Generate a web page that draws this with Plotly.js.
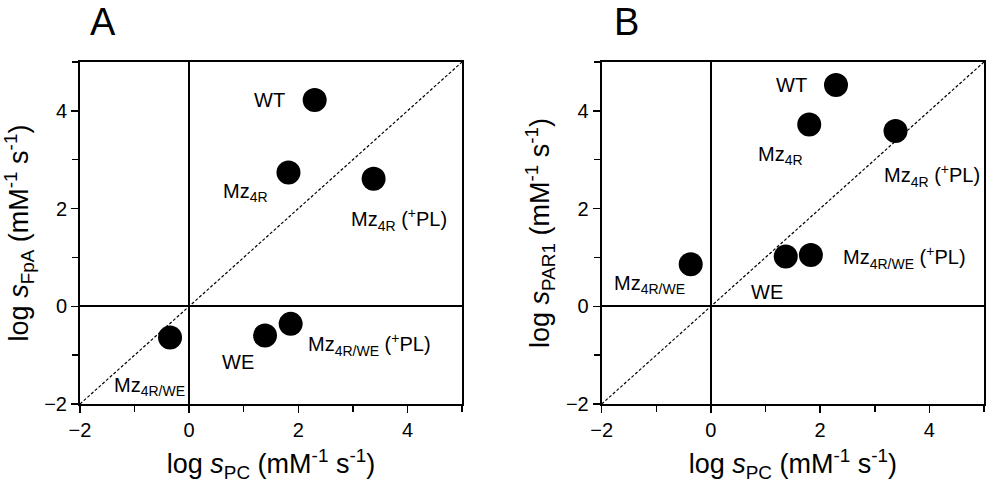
<!DOCTYPE html>
<html>
<head>
<meta charset="utf-8">
<script src="https://cdn.plot.ly/plotly-3.0.1.min.js"></script>
<style>html,body{margin:0;padding:0;background:#fff}#chart{width:990px;height:488px}</style>
</head>
<body>
<div id="chart"></div>
<script>
// ---- data ----
const labelsA = ["WT", "Mz<sub>4R</sub>", "Mz<sub>4R</sub> (<sup>+</sup>PL)", "Mz<sub>4R/WE</sub>", "WE", "Mz<sub>4R/WE</sub> (<sup>+</sup>PL)"];
const xA = [2.30, 1.82, 3.38, -0.35, 1.39, 1.86];
const yA = [4.22, 2.74, 2.61, -0.64, -0.60, -0.36];

const labelsB = ["WT", "Mz<sub>4R</sub>", "Mz<sub>4R</sub> (<sup>+</sup>PL)", "Mz<sub>4R/WE</sub>", "WE", "Mz<sub>4R/WE</sub> (<sup>+</sup>PL)"];
const xB = [2.29, 1.80, 3.38, -0.37, 1.37, 1.83];
const yB = [4.53, 3.72, 3.59, 0.86, 1.02, 1.05];

const diagX = [-2, 5];
const diagY = [-2, 5];

// label placement (left edge x, middle y) in data units
const labPosA = [[1.15, 4.23], [0.58, 2.33], [2.92, 1.78], [-1.42, -1.65], [0.56, -1.14], [2.15, -0.78]];
const labPosB = [[1.16, 4.53], [0.83, 3.09], [3.13, 2.67], [-1.82, 0.44], [0.70, 0.30], [2.38, 0.99]];

const FONT = "Liberation Sans, Arial, sans-serif";

const markerStyle = {size: 24, color: "#000"};
const traces = [
  {x: diagX, y: diagY, xaxis: "x", yaxis: "y", mode: "lines", line: {color: "#000", width: 1.2, dash: "3px,2px"}, hoverinfo: "skip"},
  {x: xA, y: yA, xaxis: "x", yaxis: "y", mode: "markers", marker: markerStyle},
  {x: diagX, y: diagY, xaxis: "x2", yaxis: "y2", mode: "lines", line: {color: "#000", width: 1.2, dash: "3px,2px"}, hoverinfo: "skip"},
  {x: xB, y: yB, xaxis: "x2", yaxis: "y2", mode: "markers", marker: markerStyle}
];

function axisBase() {
  return {
    range: [-2, 5], autorange: false,
    tick0: 0, dtick: 2, ticks: "outside", ticklen: 7, tickwidth: 1.5, tickcolor: "#000",
    minor: {dtick: 1, ticks: "outside", ticklen: 6, tickwidth: 1.5, tickcolor: "#000", showgrid: false},
    showline: true, linecolor: "#000", linewidth: 2, mirror: true,
    showgrid: false,
    zeroline: true, zerolinecolor: "#000", zerolinewidth: 2,
    tickfont: {family: FONT, size: 20, color: "#000"},
    fixedrange: true
  };
}

const titleFont = {family: FONT, size: 27, color: "#000"};
const xTitle = "log <i>s</i><sub>PC</sub> (mM<sup>-1</sup> s<sup>-1</sup>)";

const annotations = [];
labelsA.forEach((t, i) => annotations.push({x: labPosA[i][0], y: labPosA[i][1], xref: "x", yref: "y", text: t, showarrow: false, xanchor: "left", yanchor: "middle", font: {family: FONT, size: 20, color: "#000"}}));
labelsB.forEach((t, i) => annotations.push({x: labPosB[i][0], y: labPosB[i][1], xref: "x2", yref: "y2", text: t, showarrow: false, xanchor: "left", yanchor: "middle", font: {family: FONT, size: 20, color: "#000"}}));
annotations.push({x: 0.009, y: 1.116, xref: "paper", yref: "paper", text: "A", showarrow: false, xanchor: "left", yanchor: "middle", font: {family: FONT, size: 38, color: "#000"}});
annotations.push({x: 0.589, y: 1.116, xref: "paper", yref: "paper", text: "B", showarrow: false, xanchor: "left", yanchor: "middle", font: {family: FONT, size: 38, color: "#000"}});

const layout = {
  width: 990, height: 488,
  margin: {l: 80, r: 6, t: 62, b: 84},
  paper_bgcolor: "#fff", plot_bgcolor: "#fff",
  showlegend: false,
  font: {family: FONT, color: "#000"},
  xaxis: Object.assign(axisBase(), {domain: [0, 0.4226], anchor: "y", title: {text: xTitle, font: titleFont, standoff: 14}}),
  yaxis: Object.assign(axisBase(), {domain: [0, 1], anchor: "x", title: {text: "log <i>s</i><sub>FpA</sub> (mM<sup>-1</sup> s<sup>-1</sup>)", font: titleFont, standoff: 8}}),
  xaxis2: Object.assign(axisBase(), {domain: [0.5771, 1], anchor: "y2", title: {text: xTitle, font: titleFont, standoff: 14}}),
  yaxis2: Object.assign(axisBase(), {domain: [0, 1], anchor: "x2", title: {text: "log <i>s</i><sub>PAR1</sub> (mM<sup>-1</sup> s<sup>-1</sup>)", font: titleFont, standoff: 8}}),
  annotations: annotations
};

Plotly.newPlot("chart", traces, layout, {staticPlot: true, displayModeBar: false});
</script>
</body>
</html>
